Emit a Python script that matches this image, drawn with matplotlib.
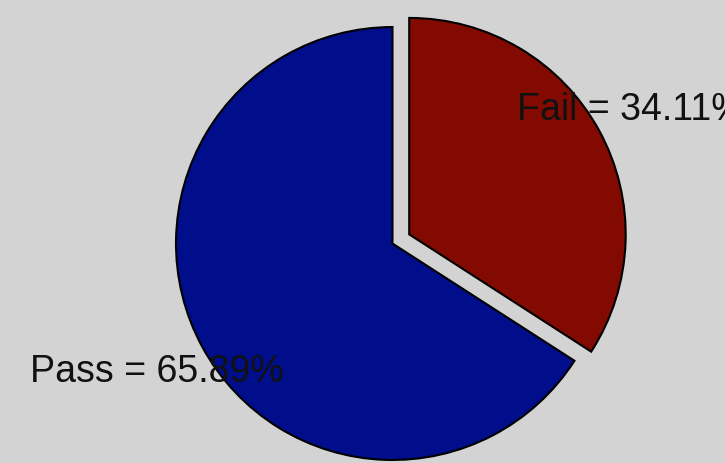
import matplotlib
matplotlib.use("Agg")
import matplotlib.pyplot as plt

categories = ["Fail", "Pass"]
values = [34.11, 65.89]
colors = ["#820a00", "#000e8c"]

fig = plt.figure(figsize=(7.25, 4.63), dpi=100)
fig.patch.set_facecolor("#d3d3d3")
ax = fig.add_axes([0, 0, 1, 1])
ax.set_facecolor("#d3d3d3")

ax.pie(values, colors=colors, startangle=90, counterclock=False,
       explode=[0.088, 0], radius=1.0,
       wedgeprops=dict(edgecolor="black", linewidth=1.5))

ax.set_xlim(-1.813, 1.536)
ax.set_ylim(-1.014, 1.125)
ax.set_aspect("auto")
ax.axis("off")

label_pos = {"Fail": (0.575, 0.570), "Pass": (-1.675, -0.640)}
for name, val in zip(categories, values):
    x, y = label_pos[name]
    ax.text(x, y, f"{name} = {val:.2f}%", fontsize=27, family="Liberation Sans",
            color="#111111", ha="left", va="baseline", zorder=10)

fig.savefig("out.png", dpi=100, facecolor=fig.get_facecolor())
